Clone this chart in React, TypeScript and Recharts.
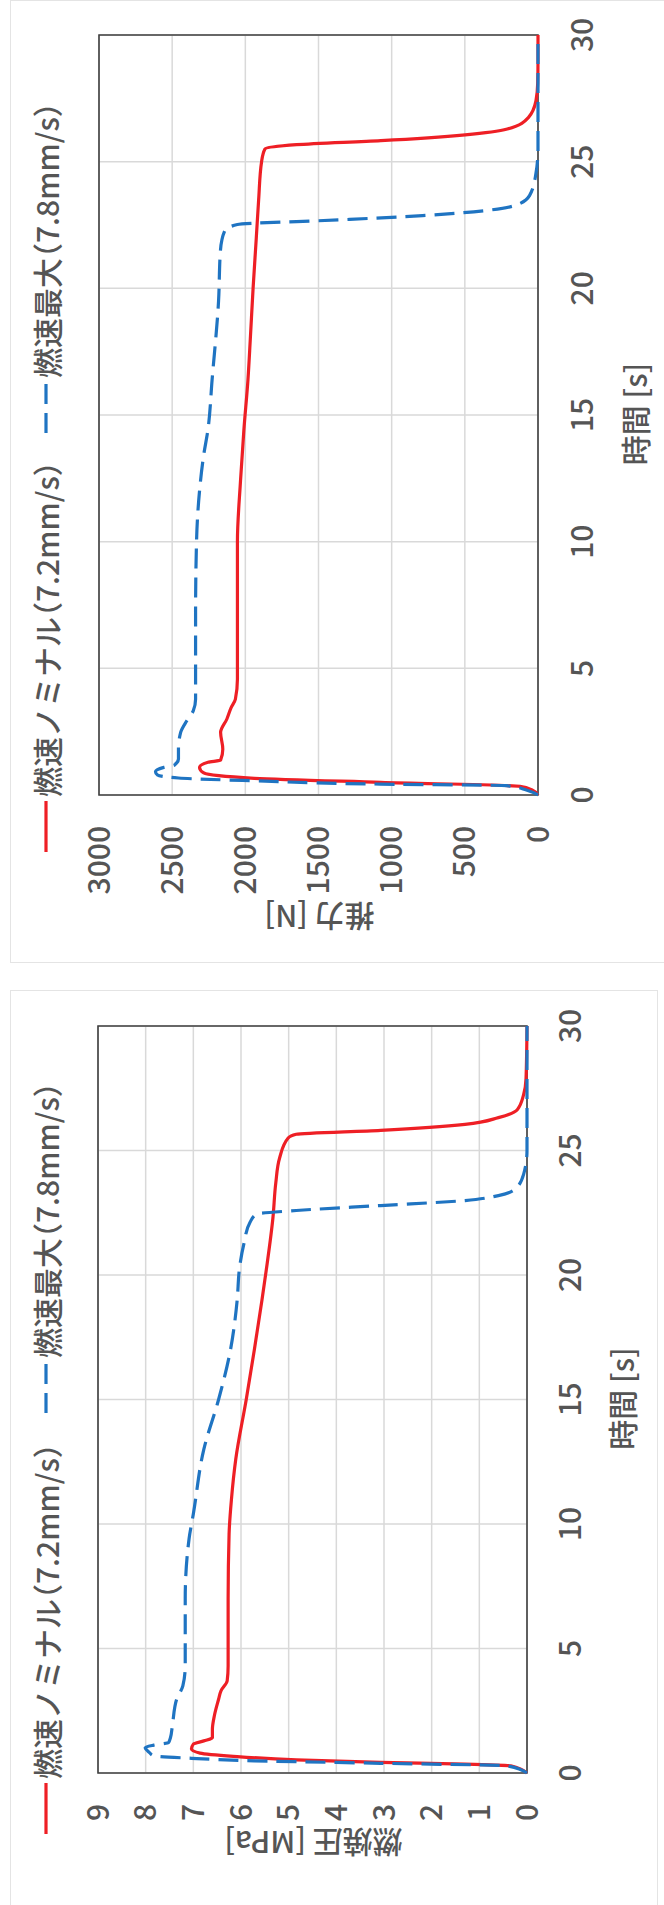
import React from 'react';
import { LineChart, Line, XAxis, YAxis, CartesianGrid, ReferenceArea } from 'recharts';

// --- shared axis ticks ---
const TIME_TICKS = [0, 5, 10, 15, 20, 25, 30];
const THRUST_TICKS = [0, 500, 1000, 1500, 2000, 2500, 3000];
const PRESSURE_TICKS = [0, 1, 2, 3, 4, 5, 6, 7, 8, 9];

const SERIES_NAMES = ['燃速ノミナル（7.2mm/s）', '燃速最大（7.8mm/s）'];

// --- thrust [N] ---
const thrustNominalTime = [0, 0.2, 0.34, 0.5, 0.66, 0.87, 1.09, 1.29, 1.38, 1.81, 2.47, 3.0, 3.45, 3.78, 4.57, 7.2, 10.0, 12.4, 14.4, 16.4, 18.0, 20.0, 22.0, 23.5, 25.0, 25.5, 25.67, 25.83, 26.06, 26.29, 26.74, 27.4, 28.1, 29.0, 30];
const thrustNominal = [0, 40, 123, 1074, 1938, 2284, 2313, 2255, 2169, 2154, 2169, 2126, 2097, 2068, 2054, 2054, 2054, 2033, 2010, 1982, 1966, 1947, 1925, 1909, 1889, 1866, 1650, 1074, 498, 210, 66, 14, 2, 0, 0];

const thrustMaxTime = [0, 0.2, 0.37, 0.43, 0.56, 0.67, 0.79, 0.92, 1.09, 1.18, 1.42, 1.81, 2.47, 2.93, 3.32, 3.78, 7.2, 10.1, 12.0, 13.4, 14.4, 16.4, 19.5, 21.5, 22.28, 22.52, 22.7, 22.87, 23.07, 23.27, 23.66, 24.5, 25.5, 30];
const thrustMax = [0, 80, 216, 1078, 1940, 2457, 2600, 2614, 2557, 2485, 2457, 2457, 2442, 2400, 2356, 2340, 2340, 2333, 2313, 2285, 2256, 2227, 2183, 2170, 2140, 2054, 1365, 790, 359, 158, 58, 15, 0, 0];

// --- chamber pressure [MPa] ---
const pressureNominalTime = [0, 0.29, 0.36, 0.43, 0.53, 0.67, 0.8, 0.96, 1.16, 1.29, 1.42, 1.76, 2.29, 2.96, 3.3, 3.7, 4.3, 7.0, 9.6, 11.0, 12.6, 15.0, 17.0, 19.0, 20.2, 22.3, 23.7, 24.7, 25.5, 25.65, 25.81, 26.05, 26.32, 26.65, 27.25, 27.9, 30];
const pressureNominal = [0, 0.34, 1.3, 3.07, 4.84, 6.16, 6.86, 7.04, 7.0, 6.78, 6.6, 6.6, 6.56, 6.47, 6.42, 6.29, 6.27, 6.27, 6.25, 6.2, 6.11, 5.89, 5.72, 5.56, 5.47, 5.33, 5.27, 5.19, 5.01, 4.84, 3.07, 1.3, 0.6, 0.2, 0.07, 0.02, 0];

const pressureMaxTime = [0, 0.29, 0.39, 0.49, 0.59, 0.69, 0.82, 1.02, 1.12, 1.22, 1.42, 1.9, 2.96, 3.5, 4.3, 7.0, 9.4, 10.4, 13.0, 15.0, 17.0, 19.0, 20.3, 21.25, 22.12, 22.45, 22.59, 22.79, 22.99, 23.19, 23.45, 24.05, 25.0, 30];
const pressureMax = [0, 0.42, 3.07, 5.72, 7.04, 7.83, 7.92, 8.01, 7.83, 7.52, 7.48, 7.44, 7.35, 7.22, 7.17, 7.17, 7.09, 7.0, 6.78, 6.47, 6.22, 6.08, 6.03, 5.94, 5.81, 5.67, 4.84, 3.07, 1.3, 0.6, 0.25, 0.07, 0, 0];

const RED = '#ee1f25';
const BLUE = '#1f74c2';
const TEXT = '#555555';
const GRID = '#d9d9d9';
const FONT = "'Noto Sans CJK JP', sans-serif";
const FONT_SIZE = 30;
const FONT_WEIGHT = 500;
const DASH = '20 9';

const zip = (ts: number[], vs: number[]) => ts.map((t, i) => ({ t, v: vs[i] }));

// full-width brackets set half-width, as the source font draws them
const LegendText = ({ text }: { text: string }) => (
  <span>
    {text.split(/([（）])/).filter(Boolean).map((s, i) =>
      s === '（' || s === '）' ? (
        <span key={i} style={{ fontFeatureSettings: '"halt"' }}>{s}</span>
      ) : (
        <span key={i}>{s}</span>
      )
    )}
  </span>
);

interface PanelProps {
  x0: number;
  y0: number;
  width: number; // unrotated width
  height: number; // unrotated height
  plot: { left: number; right: number; top: number; bottom: number };
  xAxisHeight: number;
  yMax: number;
  yTicks: number[];
  yTitle: string;
  yTitleX: number;
  xTitleY: number;
  yTickGap: number;
  xTickGap: number;
  legendX: [number, number];
  red: { t: number; v: number }[];
  blue: { t: number; v: number }[];
}

// one Excel-like chart, drawn upright then turned 90deg counter-clockwise
const RotatedPanel: React.FC<PanelProps> = (p) => {
  const { width: W, height: H, plot } = p;
  const plotMidX = (plot.left + plot.right) / 2;
  const plotMidY = (plot.top + plot.bottom) / 2;
  const tickStyle = { fill: TEXT, fontSize: FONT_SIZE, fontFamily: FONT, fontWeight: FONT_WEIGHT };

  return (
    <div style={{ position: 'absolute', left: p.x0, top: p.y0, width: H, height: W }}>
      <div
        style={{
          position: 'absolute',
          left: 0,
          top: 0,
          width: W,
          height: H,
          transformOrigin: '0 0',
          transform: `translate(0px, ${W}px) rotate(-90deg)`,
          border: '1px solid #e4e4e4',
          boxSizing: 'border-box',
          background: '#fff',
          fontFamily: FONT,
        }}
      >
        {/* legend */}
        {SERIES_NAMES.map((name, i) => (
          <div
            key={name}
            style={{
              position: 'absolute',
              left: p.legendX[i],
              top: 35 - 21,
              height: 42,
              display: 'flex',
              alignItems: 'center',
              whiteSpace: 'nowrap',
              color: TEXT,
              fontSize: FONT_SIZE,
              fontWeight: FONT_WEIGHT,
              lineHeight: '42px',
            }}
          >
            <svg width={51} height={8} style={{ marginRight: 4 }}>
              <line
                x1={0}
                x2={51}
                y1={4}
                y2={4}
                stroke={i === 0 ? RED : BLUE}
                strokeWidth={3.2}
                strokeDasharray={i === 0 ? undefined : DASH}
              />
            </svg>
            <LegendText text={name} />
          </div>
        ))}

        <LineChart
          width={W - 2}
          height={H - 2}
          margin={{ top: plot.top, right: W - plot.right, left: 0, bottom: H - plot.bottom - p.xAxisHeight }}
          style={{ position: 'absolute', left: 0, top: 0 }}
        >
          <CartesianGrid stroke={GRID} strokeWidth={1.5} />
          <XAxis
            type="number"
            dataKey="t"
            domain={[0, 30]}
            ticks={TIME_TICKS}
            height={p.xAxisHeight}
            axisLine={false}
            tickLine={false}
            tickSize={0}
            tickMargin={p.xTickGap}
            tick={tickStyle}
            label={() => (
              <text
                x={plotMidX}
                y={p.xTitleY}
                textAnchor="middle"
                dominantBaseline="central"
                fill={TEXT}
                fontSize={FONT_SIZE}
                fontWeight={FONT_WEIGHT}
                fontFamily={FONT}
              >
                時間 [s]
              </text>
            )}
          />
          <YAxis
            type="number"
            dataKey="v"
            domain={[0, p.yMax]}
            ticks={p.yTicks}
            width={plot.left}
            axisLine={false}
            tickLine={false}
            tickSize={0}
            tickMargin={p.yTickGap}
            tick={tickStyle}
            label={() => (
              <text
                x={p.yTitleX}
                y={plotMidY}
                transform={`rotate(-90 ${p.yTitleX} ${plotMidY})`}
                textAnchor="middle"
                dominantBaseline="central"
                fill={TEXT}
                fontSize={FONT_SIZE}
                fontWeight={FONT_WEIGHT}
                fontFamily={FONT}
              >
                {p.yTitle}
              </text>
            )}
          />
          <ReferenceArea x1={0} x2={30} y1={0} y2={p.yMax} fill="none" stroke="#3f3f3f" strokeWidth={1.6} />
          <Line
            data={p.red}
            dataKey="v"
            type="monotone"
            stroke={RED}
            strokeWidth={3.2}
            dot={false}
            activeDot={false}
            isAnimationActive={false}
          />
          <Line
            data={p.blue}
            dataKey="v"
            type="monotone"
            stroke={BLUE}
            strokeWidth={3.2}
            strokeDasharray={DASH}
            dot={false}
            activeDot={false}
            isAnimationActive={false}
          />
        </LineChart>
      </div>
    </div>
  );
};

export default function App() {
  return (
    <div
      style={{
        position: 'absolute',
        left: 0,
        top: 0,
        width: 664,
        height: 1905,
        overflow: 'hidden',
        background: '#fff',
      }}
    >
      <RotatedPanel
        x0={10}
        y0={0}
        width={963}
        height={680}
        plot={{ left: 167, right: 929, top: 88, bottom: 529 }}
        xAxisHeight={120}
        yMax={3000}
        yTicks={THRUST_TICKS}
        yTitle="推力 [N]"
        yTitleX={44}
        xTitleY={623}
        yTickGap={31}
        xTickGap={34}
        legendX={[110, 529]}
        red={zip(thrustNominalTime, thrustNominal)}
        blue={zip(thrustMaxTime, thrustMax)}
      />
      <RotatedPanel
        x0={10}
        y0={990}
        width={948}
        height={648}
        plot={{ left: 164, right: 913, top: 87, bottom: 518 }}
        xAxisHeight={110}
        yMax={9}
        yTicks={PRESSURE_TICKS}
        yTitle="燃焼圧 [MPa]"
        yTitleX={93}
        xTitleY={610}
        yTickGap={31}
        xTickGap={33}
        legendX={[103, 524]}
        red={zip(pressureNominalTime, pressureNominal)}
        blue={zip(pressureMaxTime, pressureMax)}
      />
    </div>
  );
}
